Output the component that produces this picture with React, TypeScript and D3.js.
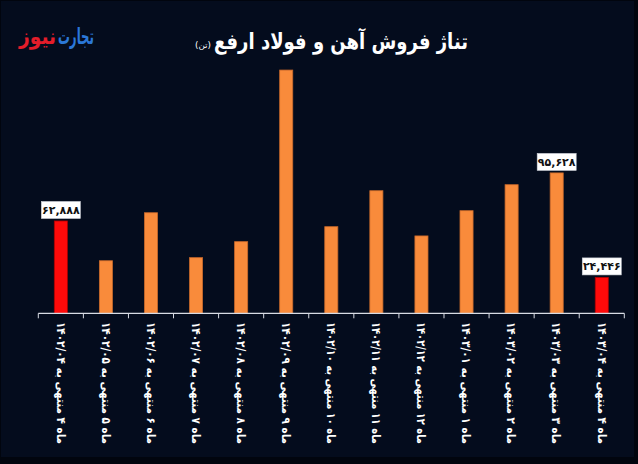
import React from "react";
import * as d3 from "d3";

const categories: string[] = [
  "ماه ۴ منتهی به ۱۴۰۲/۰۴",
  "ماه ۵ منتهی به ۱۴۰۲/۰۵",
  "ماه ۶ منتهی به ۱۴۰۲/۰۶",
  "ماه ۷ منتهی به ۱۴۰۲/۰۷",
  "ماه ۸ منتهی به ۱۴۰۲/۰۸",
  "ماه ۹ منتهی به ۱۴۰۲/۰۹",
  "ماه ۱۰ منتهی به ۱۴۰۲/۱۰",
  "ماه ۱۱ منتهی به ۱۴۰۲/۱۱",
  "ماه ۱۲ منتهی به ۱۴۰۲/۱۲",
  "ماه ۱ منتهی به ۱۴۰۳/۰۱",
  "ماه ۲ منتهی به ۱۴۰۳/۰۲",
  "ماه ۳ منتهی به ۱۴۰۳/۰۳",
  "ماه ۴ منتهی به ۱۴۰۳/۰۴",
];
const values: number[] = [
  62888, 35800, 68500, 37900, 48800, 165700, 59000, 83500, 52700, 69900, 87600, 95628, 24446,
];
const highlighted: boolean[] = [true, false, false, false, false, false, false, false, false, false, false, false, true];
const labelled: boolean[] = [true, false, false, false, false, false, false, false, false, false, false, true, true];

const titleText = "تناژ فروش آهن و فولاد ارفع";
const unitText = "(تن)";
const logoBlue = "تجارت";
const logoRed = "نیوز";

const W = 638;
const H = 464;
const FONT = "'DejaVu Sans', sans-serif";

const toFa = (s: string) => s.replace(/[0-9]/g, (d) => "۰۱۲۳۴۵۶۷۸۹"[+d]);

export default function App() {
  const x = d3
    .scaleBand<number>()
    .domain(d3.range(categories.length))
    .range([38.3, 624.3])
    .paddingInner(0.71)
    .paddingOuter(0.355);
  const y = d3.scaleLinear().domain([0, 170000]).range([313.3, 313.3 - 170 * 1.468]);
  const fmt = d3.format(",");
  const baseY = y(0);

  return (
    <svg
      width={W}
      height={H}
      style={{ position: "absolute", left: 0, top: 0, display: "block" }}
      fontFamily={FONT}
    >
      <rect x={0} y={0} width={W} height={H} fill="#01050e" />
      <rect x={1} y={1} width={633} height={456} fill="#040c1d" />

      {/* logo */}
      <text x={94} y={44} textAnchor="end" fontSize={22} fontWeight="bold" fill="#2b78d8" textLength={36} lengthAdjust="spacingAndGlyphs">
        {logoBlue}
      </text>
      <text x={56} y={44} textAnchor="end" fontSize={22} fontWeight="bold" fill="#e51d2a" textLength={37} lengthAdjust="spacingAndGlyphs">
        {logoRed}
      </text>

      {/* title */}
      <text x={468} y={49} textAnchor="end" fontSize={22} fontWeight="bold" fill="#ffffff" textLength={254} lengthAdjust="spacingAndGlyphs">
        {titleText}
      </text>
      <text x={211} y={48} textAnchor="end" fontSize={8} fill="#ffffff" textLength={16} lengthAdjust="spacingAndGlyphs">
        {unitText}
      </text>

      {/* bars */}
      {values.map((v, i) => (
        <rect
          key={"b" + i}
          x={x(i)!}
          y={y(v)}
          width={x.bandwidth()}
          height={baseY - y(v)}
          fill={highlighted[i] ? "#ff0a0a" : "#f98b3b"}
          stroke={highlighted[i] ? "#b00000" : "#c9692a"}
          strokeWidth={0.8}
        />
      ))}

      {/* axis */}
      <line x1={x.range()[0]} x2={x.range()[1]} y1={baseY} y2={baseY} stroke="#d8dce4" strokeWidth={1.2} />
      {d3.range(categories.length + 1).map((i) => {
        const tx = x.range()[0] + i * x.step();
        return <line key={"t" + i} x1={tx} x2={tx} y1={baseY} y2={baseY + 5} stroke="#d8dce4" strokeWidth={1} />;
      })}

      {/* x labels */}
      {categories.map((c, i) => {
        const cx = x(i)! + x.bandwidth() / 2;
        const ty = 322;
        return (
          <text
            key={"l" + i}
            transform={`translate(${cx},${ty}) rotate(90)`}
            x={0}
            y={0}
            dy="0.35em"
            direction="rtl"
            textAnchor="end"
            fontSize={12}
            fontWeight="bold"
            fill="#ffffff"
            textLength={122}
            lengthAdjust="spacingAndGlyphs"
          >
            {c}
          </text>
        );
      })}

      {/* value labels */}
      {values.map((v, i) => {
        if (!labelled[i]) return null;
        const cx = x(i)! + x.bandwidth() / 2;
        const top = y(v);
        const bw = 39;
        const bh = 17;
        return (
          <g key={"v" + i}>
            <rect x={cx - bw / 2} y={top - bh - 2.5} width={bw} height={bh} fill="#ffffff" stroke="#cfd3da" strokeWidth={0.6} />
            <text x={cx} y={top - 2.5 - bh / 2} dy="0.36em" textAnchor="middle" fontSize={11} fontWeight="bold" fill="#111111">
              {toFa(fmt(v))}
            </text>
          </g>
        );
      })}
    </svg>
  );
}
